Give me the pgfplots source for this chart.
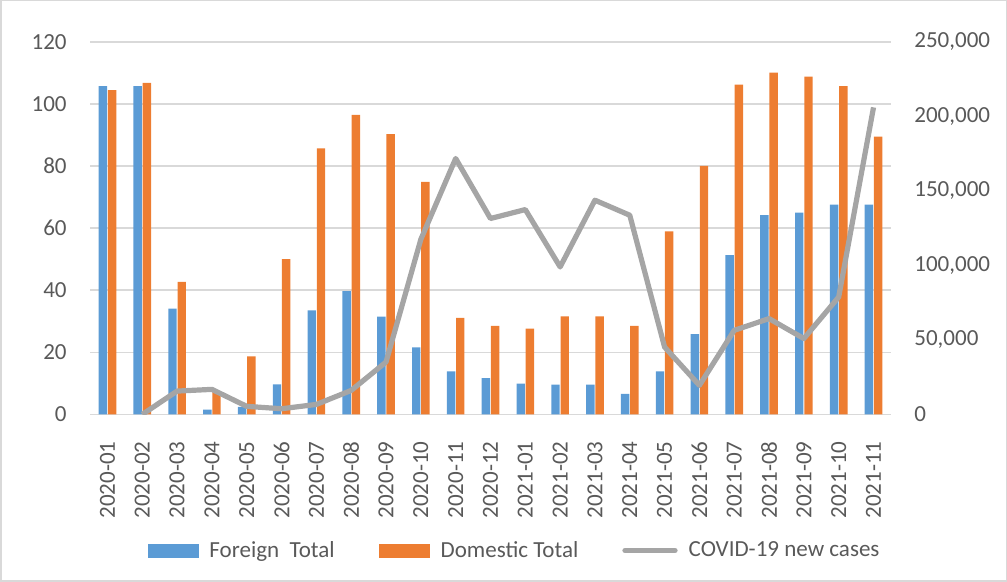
\documentclass[border=0pt]{standalone}
\usepackage{pgfplots}
\pgfplotsset{compat=1.18}
\usepackage{fontspec}
\setmainfont{Carlito}

\definecolor{fblue}{HTML}{5B9BD5}
\definecolor{dorange}{HTML}{ED7D31}
\definecolor{cgrey}{HTML}{A5A5A5}
\definecolor{gridc}{HTML}{D9D9D9}
\definecolor{txt}{HTML}{595959}

% monthly totals (left axis)
\pgfplotstableread{
x foreign domestic
1 105.8 104.5
2 105.8 106.8
3 34.1 42.7
4 1.5 7.2
5 2.4 18.7
6 9.7 50.0
7 33.5 85.7
8 39.7 96.5
9 31.5 90.3
10 21.6 74.9
11 13.9 31.1
12 11.7 28.5
13 9.9 27.6
14 9.6 31.6
15 9.6 31.6
16 6.6 28.5
17 13.9 59.0
18 25.9 80.1
19 51.3 106.3
20 64.2 110.1
21 65.0 108.8
22 67.6 105.8
23 67.6 89.5
}\totals

% new cases (right axis)
\pgfplotstableread{
x cases
2 0
3 15650
4 16800
5 5400
6 3800
7 6700
8 16100
9 35150
10 117500
11 171800
12 131500
13 137500
14 99000
15 143800
16 133700
17 45200
18 19500
19 56450
20 64300
21 50900
22 78800
23 206100
}\cases

\pgfplotsset{
  base/.style={
    scale only axis, width=400pt, height=186pt,
    xmin=0.5, xmax=23.5,
    axis line style={draw=none},
    tick style={draw=none},
    ticklabel style={font=\fontsize{11.5}{13}\selectfont, text=txt},
    /pgf/number format/assume math mode=true,
  }
}

\begin{document}
\begin{tikzpicture}
\begin{axis}[base, name=main,
    ymin=0, ymax=120, ytick={0,20,...,120},
    ymajorgrids, grid style={gridc, line width=0.8pt},
    xtick={1,...,23},
    xticklabels={2020-01,2020-02,2020-03,2020-04,2020-05,2020-06,2020-07,2020-08,2020-09,2020-10,2020-11,2020-12,2021-01,2021-02,2021-03,2021-04,2021-05,2021-06,2021-07,2021-08,2021-09,2021-10,2021-11},
    xticklabel style={yshift=-9pt, rotate=90, anchor=east, inner sep=0pt},
    yticklabel style={anchor=east, inner sep=0pt, xshift=-11.5pt},
    ybar, bar width=4.2pt,
]
\addplot[fill=fblue, draw=none, bar shift=-2.3pt] table[x=x, y=foreign] {\totals};
\addplot[fill=dorange, draw=none, bar shift=2.3pt] table[x=x, y=domestic] {\totals};
\end{axis}

\begin{axis}[base,
    ymin=0, ymax=250000, ytick={0,50000,...,250000},
    xtick=\empty,
    scaled y ticks=false,
    yticklabel pos=right,
    yticklabel style={anchor=west, inner sep=0pt, xshift=11.5pt,
      /pgf/number format/.cd, fixed, 1000 sep={,}},
    legend columns=3,
    legend style={at={(axis description cs:0.5,0)}, anchor=center,
      yshift=-68pt, xshift=12.5pt, draw=none, fill=none,
      font=\fontsize{11.5}{13}\selectfont, text=txt,
      /tikz/every odd column/.style={column sep=3.5pt},
      /tikz/every even column/.style={column sep=20pt}},
]
\addlegendimage{legend image code/.code={\fill[fblue] (0pt,-3.25pt) rectangle (25pt,3.25pt);}}
\addlegendentry{Foreign\ \ Total}
\addlegendimage{legend image code/.code={\fill[dorange] (0pt,-3.25pt) rectangle (25pt,3.25pt);}}
\addlegendentry{Domestic Total}
\addplot[cgrey, line width=2.6pt, line join=round, no marks,
  legend image code/.code={\draw[cgrey, line width=2.6pt, line cap=round] (1pt,0pt) -- (26pt,0pt);}]
  table[x=x, y=cases] {\cases};
\addlegendentry{COVID-19 new cases}
\end{axis}

\draw[gridc, line width=0.75pt] ([xshift=-44.6pt,yshift=-83.1pt]main.south west) rectangle ([xshift=57.6pt,yshift=20.6pt]main.north east);
\end{tikzpicture}
\end{document}
